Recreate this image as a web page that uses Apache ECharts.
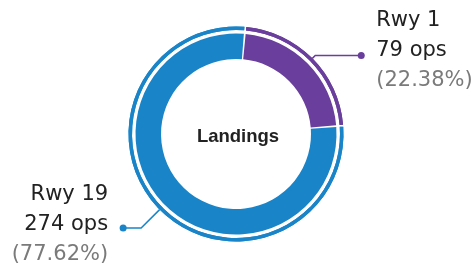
<!DOCTYPE html>
<html>
<head>
<meta charset="utf-8">
<style>html,body{margin:0;padding:0;background:#fff}#c{width:473px;height:271px}</style>
<script src="https://cdn.jsdelivr.net/npm/echarts@6/dist/echarts.min.js"></script>
</head>
<body>
<div id="c"></div>
<script>
const categories = ['Rwy 1', 'Rwy 19'];
const ops = [79, 274];
const percents = ['22.38%', '77.62%'];
const centerTitle = 'Landings';
const colors = ['#6a3e9c', '#1984c8'];

const CX = 236, CY = 134;
const START = 85;
const lineLen = [[4, 46], [26, 18]];
const textShift = [10, 6];

function buildData(extra) {
  return categories.map((c, i) => Object.assign({
    name: c, value: ops[i], itemStyle: { color: colors[i] },
    labelLine: { length: lineLen[i][0], length2: lineLen[i][1] }
  }, extra ? extra(i) : {}));
}

const lineText = { fontFamily: 'DejaVu Sans', fontSize: 21, lineHeight: 30 };
const rich = {
  n: Object.assign({ color: '#222' }, lineText),
  v: Object.assign({ color: '#222' }, lineText),
  p: Object.assign({ color: '#7a7a7a' }, lineText),
  sr: Object.assign({ width: 15 }, lineText),
  sl: Object.assign({ width: 15 }, lineText)
};
const dotRich = {
  d0: { width: 7, height: 7, borderRadius: 3.5, backgroundColor: colors[0] },
  d1: { width: 7, height: 7, borderRadius: 3.5, backgroundColor: colors[1] }
};

function fmt(p) {
  const i = p.dataIndex;
  if (i === 0) {
    return '{sr| }{n|' + categories[i] + '}\n{sr| }{v|' + ops[i] + ' ops}\n{sr| }{p|(' + percents[i] + ')}';
  }
  return '{n|' + categories[i] + '}{sl| }\n{v|' + ops[i] + ' ops}{sl| }\n{p|(' + percents[i] + ')}{sl| }';
}

const common = { type: 'pie', center: [CX, CY], startAngle: START, clockwise: true, padAngle: 1,
  silent: true, avoidLabelOverlap: false, labelLayout: { hideOverlap: false, moveOverlap: null } };

const chart = echarts.init(document.getElementById('c'), null, { renderer: 'canvas' });
chart.setOption({
  animation: false,
  backgroundColor: '#fff',
  graphic: [{
    type: 'text', x: CX + 2, y: CY + 3,
    style: { text: centerTitle, align: 'center', verticalAlign: 'middle',
      font: 'bold 18.5px "Liberation Sans", Arial, sans-serif', fill: '#222' }
  }],
  series: [
    Object.assign({}, common, {
      radius: [75, 100.5],
      label: { show: false }, labelLine: { show: false },
      data: buildData()
    }),
    Object.assign({}, common, {
      radius: [104, 107.5],
      label: { show: true, position: 'outside', bleedMargin: 0, distanceToLabelLine: 0,
        formatter: fmt, rich: rich },
      labelLine: { show: false },
      data: buildData(i => ({ label: { padding: [0, 0, textShift[i], 0] } }))
    }),
    Object.assign({}, common, {
      radius: [104, 107.5],
      label: { show: true, position: 'outside', bleedMargin: 0, distanceToLabelLine: -3.5,
        formatter: p => '{d' + p.dataIndex + '| }', rich: dotRich },
      labelLine: { show: true, lineStyle: { width: 1.5 } },
      data: buildData()
    })
  ]
});
</script>
</body>
</html>
